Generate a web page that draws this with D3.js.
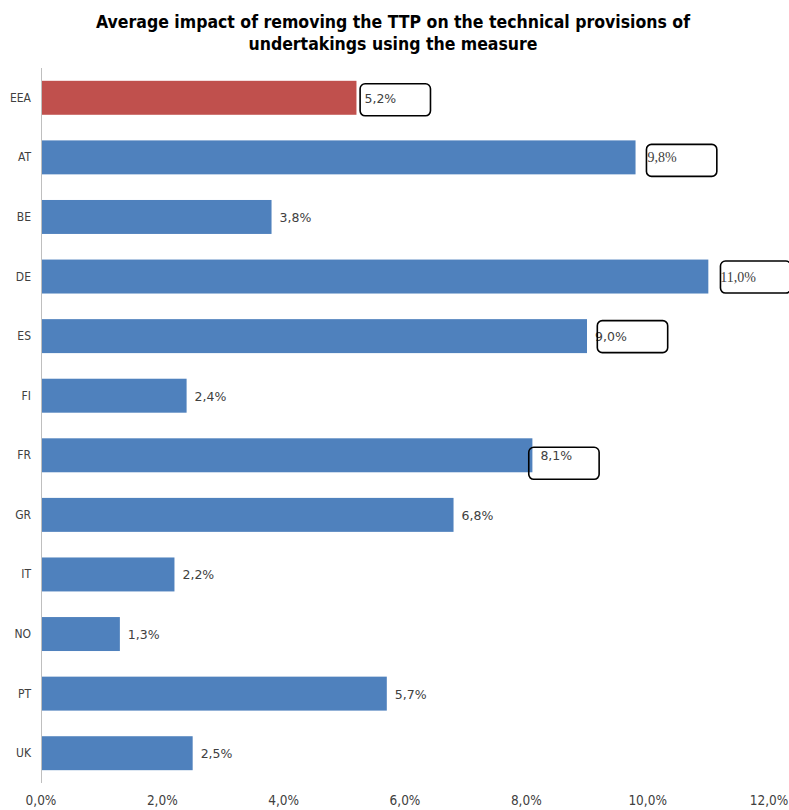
<!DOCTYPE html>
<html><head><meta charset="utf-8">
<script src="https://cdn.jsdelivr.net/npm/d3@7"></script>
<style>body{margin:0;background:#fff}svg{display:block}</style>
</head><body>
<script>
const categories = ["EEA","AT","BE","DE","ES","FI","FR","GR","IT","NO","PT","UK"];
const values = [5.2,9.8,3.8,11.0,9.0,2.4,8.1,6.8,2.2,1.3,5.7,2.5];
const xTicks = [0,2,4,6,8,10,12];
const titleLines = ["Average impact of removing the TTP on the technical provisions of","undertakings using the measure"];
// annotation boxes: category, start (in %), width (in %)
const boxCats = ["EEA","AT","DE","ES","FR"];
const boxStart = [5.26,9.98,11.2,9.17,8.04];
const boxShift = [2,3,0.5,0.5,8];

const W=789,H=810;
const svg=d3.select("body").append("svg").attr("width",W).attr("height",H);
const x=d3.scaleLinear().domain([0,12]).range([41,769]);
const y=d3.scaleBand().domain(categories).range([68,783]).paddingInner(0.43).paddingOuter(0.215);

svg.selectAll("text.title").data(titleLines).enter().append("text")
 .attr("x",393).attr("y",(d,i)=>28+i*22).attr("text-anchor","middle")
 .attr("font-family","DejaVu Sans Condensed").attr("font-weight","bold").attr("font-size",17.5)
 .attr("fill","#000").text(d=>d);

svg.selectAll("rect.bar").data(values).enter().append("rect")
 .attr("x",x(0)).attr("y",(d,i)=>y(categories[i])).attr("height",y.bandwidth())
 .attr("width",d=>x(d)-x(0)).attr("fill",(d,i)=>categories[i]==="EEA"?"#C0504D":"#4F81BD");

svg.append("line").attr("x1",x(0)+0.5).attr("x2",x(0)+0.5).attr("y1",68).attr("y2",783).attr("stroke","#BFBFBF");

svg.selectAll("text.cat").data(categories).enter().append("text")
 .attr("x",31).attr("y",d=>y(d)+y.bandwidth()/2+4).attr("text-anchor","end")
 .attr("font-family","DejaVu Sans Condensed, DejaVu Sans").attr("font-size",12).attr("fill","#404040").text(d=>d);

const serif=new Set(["AT","DE"]);
svg.selectAll("text.val").data(values).enter().append("text")
 .attr("x",(d,i)=>x(d)+(serif.has(categories[i])?12:8)).attr("y",(d,i)=>y(categories[i])+y.bandwidth()/2+5)
 .attr("font-family",(d,i)=>serif.has(categories[i])?"Liberation Serif":"DejaVu Sans")
 .attr("font-size",(d,i)=>serif.has(categories[i])?14:12.5).attr("fill","#404040")
 .text(d=>d.toFixed(1).replace(".",",")+"%");

svg.selectAll("rect.box").data(boxCats).enter().append("rect")
 .attr("x",(d,i)=>x(boxStart[i])).attr("y",(d,i)=>y(d)+y.bandwidth()/2-16+boxShift[i])
 .attr("width",x(1.16)-x(0)).attr("height",32).attr("rx",5)
 .attr("fill","none").attr("stroke","#000").attr("stroke-width",1.6);

svg.selectAll("text.tick").data(xTicks).enter().append("text")
 .attr("x",d=>x(d)).attr("y",805).attr("text-anchor","middle")
 .attr("font-family","DejaVu Sans Condensed, DejaVu Sans").attr("font-size",13.5).attr("fill","#404040")
 .text(d=>d.toFixed(1).replace(".",",")+"%");
</script>
</body></html>
